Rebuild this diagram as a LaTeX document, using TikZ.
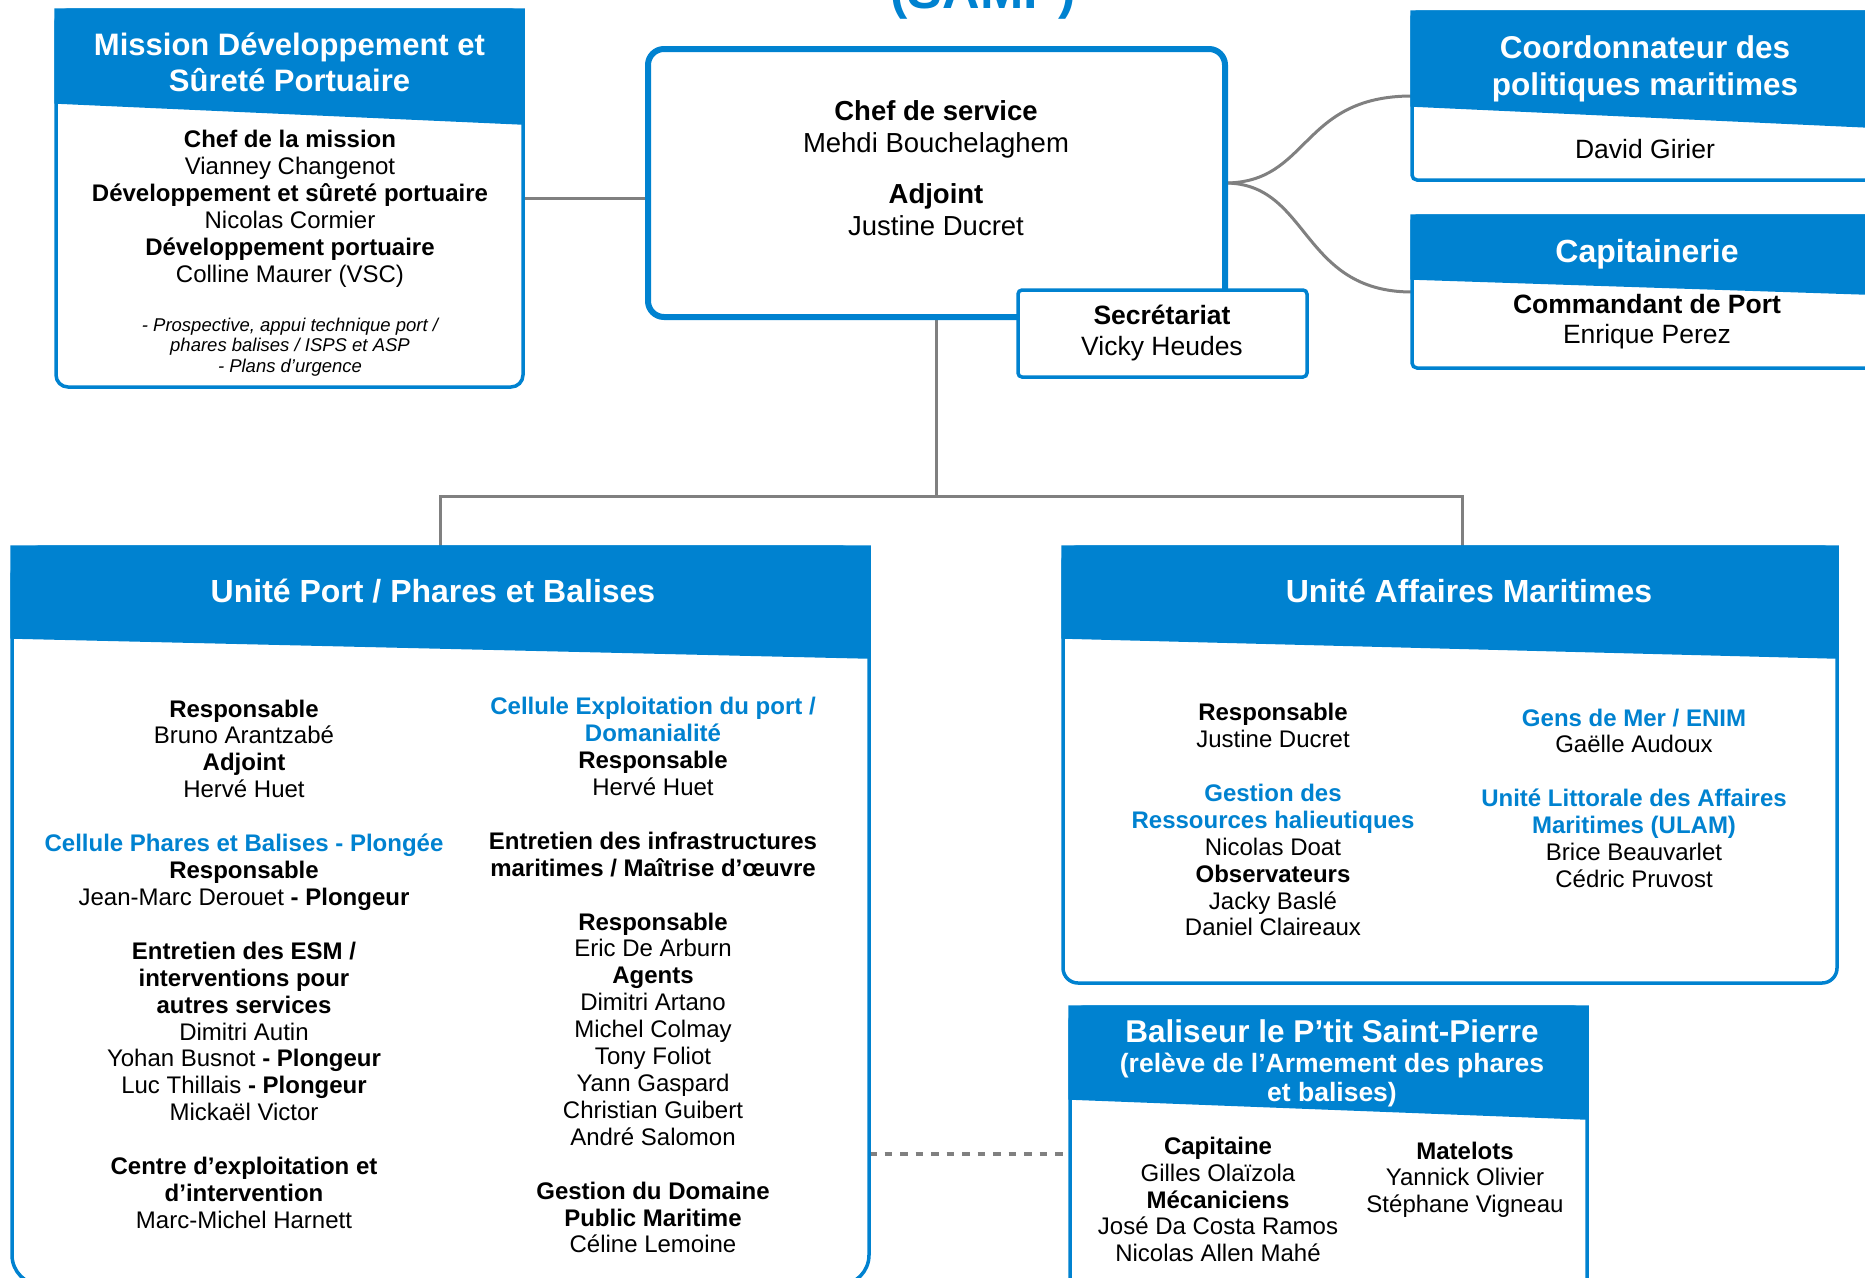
\documentclass[tikz,border=0pt]{standalone}
\usepackage{fontspec}
\setmainfont{Liberation Sans}
\usetikzlibrary{calc}
\definecolor{mblue}{RGB}{0,130,208}
\definecolor{lgray}{RGB}{128,128,128}
\newcommand\setfs[2]{\fontsize{#1}{#2}\selectfont}
\newcommand\bluehd[1]{{\color{mblue}\bfseries #1}}
\newcommand\hdrband[3]{\filldraw[hdrfill] (#1.north west) -- (#1.north east) -- ($(#1.north east)+(0,#3)$) -- ($(#1.north west)+(0,#2)$) -- cycle;}
\pgfdeclarelayer{bg}
\pgfdeclarelayer{paper}
\pgfsetlayers{paper,bg,main}
\begin{document}
\begin{tikzpicture}[x=1pt,y=-1pt,
  box/.style={draw=mblue, fill=white, line width=3.5pt, inner sep=0pt, outer sep=0pt, anchor=north west},
  hdrfill/.style={fill=mblue, draw=mblue, line width=3.5pt, line join=miter},
  txt/.style={inner sep=0pt, anchor=north, align=center},
  hdtxt/.style={inner sep=0pt, anchor=north, align=center, text=white},
  conn/.style={draw=lgray, line width=3pt},
  dconn/.style={draw=lgray, line width=3.5pt, dash pattern=on 7.5pt off 8pt}]
\useasboundingbox (0,0) rectangle (1865,1277);
\clip (0,0) rectangle (1865,1277);
\begin{pgfonlayer}{paper}
\fill[white] (0,0) rectangle (1865,1277);
\end{pgfonlayer}

% cropped title
\node[font=\bfseries\setfs{52}{60}, text=mblue, anchor=base, inner sep=0pt] (samp) at (983,8) {(SAMP)};

% ---- Mission box
\node[box, rounded corners=12pt, minimum width=467pt, minimum height=377pt] (mission) at (56,10) {};
\hdrband{mission}{92}{113}
\node[hdtxt, font=\bfseries\setfs{31}{36}] (missiont) at (289.5,30) {\strut Mission Développement et\\Sûreté Portuaire};
\node[txt, font=\setfs{24}{27}] (missionc) at (290,128) {\strut\textbf{Chef de la mission}\\Vianney Changenot\\\textbf{Développement et sûreté portuaire}\\Nicolas Cormier\\\textbf{Développement portuaire}\\Colline Maurer (VSC)};
\node[txt, font=\itshape\setfs{18.5}{20.5}] (missioni) at (290,316.8) {\strut - Prospective, appui technique port /\\phares balises / ISPS et ASP\\- Plans d’urgence};

% ---- Chef de service
\node[box, line width=6pt, rounded corners=16pt, minimum width=577pt, minimum height=268pt] (chef) at (648,49) {};
\node[txt, font=\setfs{27.5}{32}] (cheft) at (936,97.7) {\strut\textbf{Chef de service}\\Mehdi Bouchelaghem\\[19pt]\textbf{Adjoint}\\Justine Ducret};

% ---- Secretariat
\node[box, rounded corners=4pt, minimum width=289pt, minimum height=87pt] (secr) at (1018,290) {};
\node[txt, font=\setfs{26.5}{31}] (secrt) at (1162,303) {\strut\textbf{Secrétariat}\\Vicky Heudes};

% ---- Coordonnateur
\node[box, rounded corners=5pt, minimum width=500pt, minimum height=168pt] (coord) at (1412,12) {};
\hdrband{coord}{93}{116}
\node[hdtxt, font=\bfseries\setfs{31.5}{37}] (coordt) at (1645,32.5) {\strut Coordonnateur des\\politiques maritimes};
\node[txt, font=\setfs{26.5}{31}] (coordc) at (1645,137) {\strut David Girier};

% ---- Capitainerie
\node[box, rounded corners=5pt, minimum width=500pt, minimum height=152pt] (capit) at (1412,216) {};
\hdrband{capit}{62}{78.5}
\node[hdtxt, font=\bfseries\setfs{32}{37}] (capitt) at (1647,236.7) {\strut Capitainerie};
\node[txt, font=\setfs{26.5}{30}] (capitc) at (1647,292.7) {\strut\textbf{Commandant de Port}\\Enrique Perez};

% ---- Unite Port / Phares et Balises
\node[box, rounded corners=30pt, minimum width=857pt, minimum height=738pt] (port) at (12,547) {};
\hdrband{port}{90}{110}
\node[hdtxt, font=\bfseries\setfs{32}{37}] (portt) at (433,576.7) {\strut Unité Port / Phares et Balises};
\node[txt, font=\setfs{24}{26.9}] (portl) at (244,698) {\strut\textbf{Responsable}\\Bruno Arantzabé\\\textbf{Adjoint}\\Hervé Huet\\[27pt]
\bluehd{Cellule Phares et Balises - Plongée}\\\textbf{Responsable}\\Jean-Marc Derouet \textbf{- Plongeur}\\[27pt]
\textbf{Entretien des ESM /}\\\textbf{interventions pour}\\\textbf{autres services}\\Dimitri Autin\\Yohan Busnot \textbf{- Plongeur}\\Luc Thillais \textbf{- Plongeur}\\Mickaël Victor\\[27pt]
\textbf{Centre d’exploitation et}\\\textbf{d’intervention}\\Marc-Michel Harnett};
\node[txt, font=\setfs{24}{26.9}] (portr) at (653,695.6) {\strut\bluehd{Cellule Exploitation du port /}\\\bluehd{Domanialité}\\\textbf{Responsable}\\Hervé Huet\\[27pt]
\textbf{Entretien des infrastructures}\\\textbf{maritimes / Maîtrise d’œuvre}\\[27pt]
\textbf{Responsable}\\Eric De Arburn\\\textbf{Agents}\\Dimitri Artano\\Michel Colmay\\Tony Foliot\\Yann Gaspard\\Christian Guibert\\André Salomon\\[27pt]
\textbf{Gestion du Domaine}\\\textbf{Public Maritime}\\Céline Lemoine};

% ---- Unite Affaires Maritimes
\node[box, rounded corners=15pt, minimum width=774pt, minimum height=436pt] (am) at (1063,547) {};
\hdrband{am}{90}{110}
\node[hdtxt, font=\bfseries\setfs{32}{37}] (amt) at (1469,576.7) {\strut Unité Affaires Maritimes};
\node[txt, font=\setfs{24}{26.9}] (aml) at (1273,701.6) {\strut\textbf{Responsable}\\Justine Ducret\\[27pt]
\bluehd{Gestion des}\\\bluehd{Ressources halieutiques}\\Nicolas Doat\\\textbf{Observateurs}\\Jacky Baslé\\Daniel Claireaux};
\node[txt, font=\setfs{24}{26.9}] (amr) at (1634,707) {\strut\bluehd{Gens de Mer / ENIM}\\Gaëlle Audoux\\[27pt]
\bluehd{Unité Littorale des Affaires}\\\bluehd{Maritimes (ULAM)}\\Brice Beauvarlet\\Cédric Pruvost};

% ---- Baliseur
\node[box, rounded corners=15pt, minimum width=517pt, minimum height=294pt] (bal) at (1070,1007) {};
\hdrband{bal}{91}{111}
\node[hdtxt, font=\bfseries\setfs{31.5}{36}] (balt1) at (1332,1017.2) {\strut Baliseur le P’tit Saint-Pierre};
\node[hdtxt, font=\bfseries\setfs{26.5}{29}] (balt2) at (1332,1052.4) {\strut (relève de l’Armement des phares\\et balises)};
\node[txt, font=\setfs{24}{26.8}] (ball) at (1218,1135.6) {\strut\textbf{Capitaine}\\Gilles Olaïzola\\\textbf{Mécaniciens}\\José Da Costa Ramos\\Nicolas Allen Mahé};
\node[txt, font=\setfs{24}{26.8}] (balr) at (1465,1140.1) {\strut\textbf{Matelots}\\Yannick Olivier\\Stéphane Vigneau};

% ---- connectors
\coordinate (split) at (936.5,496);
\coordinate (amtop) at ($(am.north)+(12,0)$);
\begin{pgfonlayer}{bg}
\draw[conn] (mission.east) -- (mission.east -| chef.west);
\draw[conn] (chef.south -| split) -- (split);
\draw[conn] (port.north) |- (split) -| (amtop);
\draw[conn] (chef.east) .. controls +(85,0) and +(-112,0) .. (coord.west);
\draw[conn] (chef.east) .. controls +(85,0) and +(-112,0) .. (capit.west);
\draw[dconn] (bal.west -| port.east) -- (bal.west);
\end{pgfonlayer}
\end{tikzpicture}
\end{document}
